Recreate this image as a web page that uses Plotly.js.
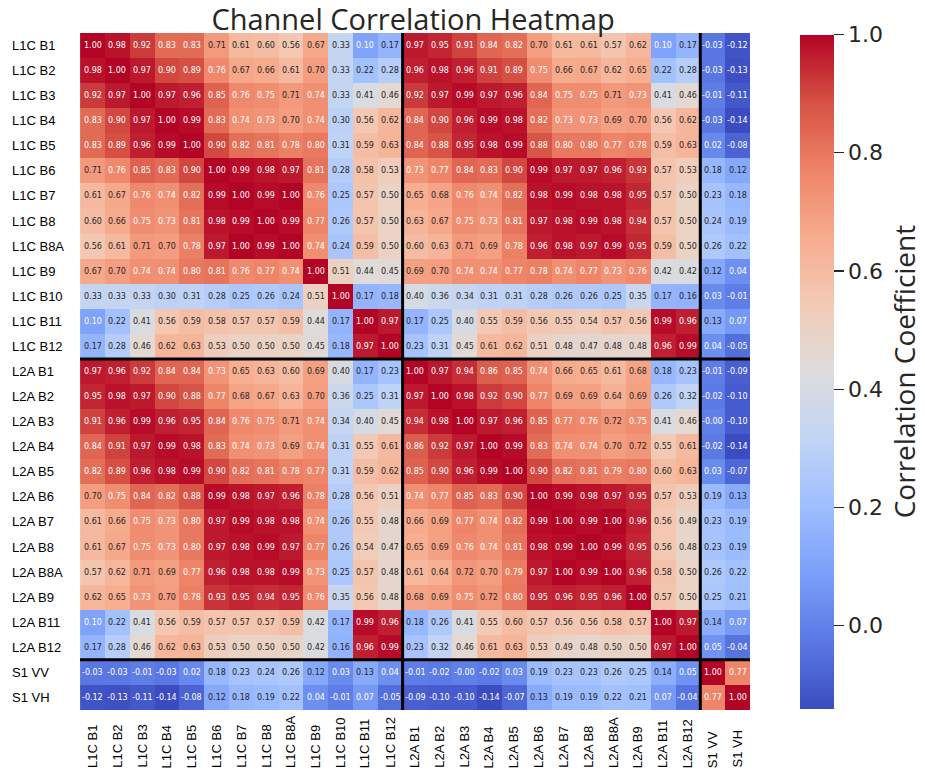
<!DOCTYPE html>
<html>
<head>
<meta charset="utf-8">
<script src="https://cdn.plot.ly/plotly-3.0.1.min.js"></script>
<style>html,body{margin:0;padding:0;background:#fff;}#chart{width:925px;height:775px;}</style>
</head>
<body>
<div id="chart"></div>
<script>
const channels = ["L1C B1","L1C B2","L1C B3","L1C B4","L1C B5","L1C B6","L1C B7","L1C B8","L1C B8A","L1C B9","L1C B10","L1C B11","L1C B12",
  "L2A B1","L2A B2","L2A B3","L2A B4","L2A B5","L2A B6","L2A B7","L2A B8","L2A B8A","L2A B9","L2A B11","L2A B12","S1 VV","S1 VH"];

const r_L1C_B1  = [1.00,0.98,0.92,0.83,0.83,0.71,0.61,0.60,0.56,0.67,0.33,0.10,0.17,0.97,0.95,0.91,0.84,0.82,0.70,0.61,0.61,0.57,0.62,0.10,0.17,-0.03,-0.12];
const r_L1C_B2  = [0.98,1.00,0.97,0.90,0.89,0.76,0.67,0.66,0.61,0.70,0.33,0.22,0.28,0.96,0.98,0.96,0.91,0.89,0.75,0.66,0.67,0.62,0.65,0.22,0.28,-0.03,-0.13];
const r_L1C_B3  = [0.92,0.97,1.00,0.97,0.96,0.85,0.76,0.75,0.71,0.74,0.33,0.41,0.46,0.92,0.97,0.99,0.97,0.96,0.84,0.75,0.75,0.71,0.73,0.41,0.46,-0.01,-0.11];
const r_L1C_B4  = [0.83,0.90,0.97,1.00,0.99,0.83,0.74,0.73,0.70,0.74,0.30,0.56,0.62,0.84,0.90,0.96,0.99,0.98,0.82,0.73,0.73,0.69,0.70,0.56,0.62,-0.03,-0.14];
const r_L1C_B5  = [0.83,0.89,0.96,0.99,1.00,0.90,0.82,0.81,0.78,0.80,0.31,0.59,0.63,0.84,0.88,0.95,0.98,0.99,0.88,0.80,0.80,0.77,0.78,0.59,0.63,0.02,-0.08];
const r_L1C_B6  = [0.71,0.76,0.85,0.83,0.90,1.00,0.99,0.98,0.97,0.81,0.28,0.58,0.53,0.73,0.77,0.84,0.83,0.90,0.99,0.97,0.97,0.96,0.93,0.57,0.53,0.18,0.12];
const r_L1C_B7  = [0.61,0.67,0.76,0.74,0.82,0.99,1.00,0.99,1.00,0.76,0.25,0.57,0.50,0.65,0.68,0.76,0.74,0.82,0.98,0.99,0.98,0.98,0.95,0.57,0.50,0.23,0.18];
const r_L1C_B8  = [0.60,0.66,0.75,0.73,0.81,0.98,0.99,1.00,0.99,0.77,0.26,0.57,0.50,0.63,0.67,0.75,0.73,0.81,0.97,0.98,0.99,0.98,0.94,0.57,0.50,0.24,0.19];
const r_L1C_B8A = [0.56,0.61,0.71,0.70,0.78,0.97,1.00,0.99,1.00,0.74,0.24,0.59,0.50,0.60,0.63,0.71,0.69,0.78,0.96,0.98,0.97,0.99,0.95,0.59,0.50,0.26,0.22];
const r_L1C_B9  = [0.67,0.70,0.74,0.74,0.80,0.81,0.76,0.77,0.74,1.00,0.51,0.44,0.45,0.69,0.70,0.74,0.74,0.77,0.78,0.74,0.77,0.73,0.76,0.42,0.42,0.12,0.04];
const r_L1C_B10 = [0.33,0.33,0.33,0.30,0.31,0.28,0.25,0.26,0.24,0.51,1.00,0.17,0.18,0.40,0.36,0.34,0.31,0.31,0.28,0.26,0.26,0.25,0.35,0.17,0.16,0.03,-0.01];
const r_L1C_B11 = [0.10,0.22,0.41,0.56,0.59,0.58,0.57,0.57,0.59,0.44,0.17,1.00,0.97,0.17,0.25,0.40,0.55,0.59,0.56,0.55,0.54,0.57,0.56,0.99,0.96,0.13,0.07];
const r_L1C_B12 = [0.17,0.28,0.46,0.62,0.63,0.53,0.50,0.50,0.50,0.45,0.18,0.97,1.00,0.23,0.31,0.45,0.61,0.62,0.51,0.48,0.47,0.48,0.48,0.96,0.99,0.04,-0.05];
const r_L2A_B1  = [0.97,0.96,0.92,0.84,0.84,0.73,0.65,0.63,0.60,0.69,0.40,0.17,0.23,1.00,0.97,0.94,0.86,0.85,0.74,0.66,0.65,0.61,0.68,0.18,0.23,-0.01,-0.09];
const r_L2A_B2  = [0.95,0.98,0.97,0.90,0.88,0.77,0.68,0.67,0.63,0.70,0.36,0.25,0.31,0.97,1.00,0.98,0.92,0.90,0.77,0.69,0.69,0.64,0.69,0.26,0.32,-0.02,-0.10];
const r_L2A_B3  = [0.91,0.96,0.99,0.96,0.95,0.84,0.76,0.75,0.71,0.74,0.34,0.40,0.45,0.94,0.98,1.00,0.97,0.96,0.85,0.77,0.76,0.72,0.75,0.41,0.46,-0.004,-0.10];
const r_L2A_B4  = [0.84,0.91,0.97,0.99,0.98,0.83,0.74,0.73,0.69,0.74,0.31,0.55,0.61,0.86,0.92,0.97,1.00,0.99,0.83,0.74,0.74,0.70,0.72,0.55,0.61,-0.02,-0.14];
const r_L2A_B5  = [0.82,0.89,0.96,0.98,0.99,0.90,0.82,0.81,0.78,0.77,0.31,0.59,0.62,0.85,0.90,0.96,0.99,1.00,0.90,0.82,0.81,0.79,0.80,0.60,0.63,0.03,-0.07];
const r_L2A_B6  = [0.70,0.75,0.84,0.82,0.88,0.99,0.98,0.97,0.96,0.78,0.28,0.56,0.51,0.74,0.77,0.85,0.83,0.90,1.00,0.99,0.98,0.97,0.95,0.57,0.53,0.19,0.13];
const r_L2A_B7  = [0.61,0.66,0.75,0.73,0.80,0.97,0.99,0.98,0.98,0.74,0.26,0.55,0.48,0.66,0.69,0.77,0.74,0.82,0.99,1.00,0.99,1.00,0.96,0.56,0.49,0.23,0.19];
const r_L2A_B8  = [0.61,0.67,0.75,0.73,0.80,0.97,0.98,0.99,0.97,0.77,0.26,0.54,0.47,0.65,0.69,0.76,0.74,0.81,0.98,0.99,1.00,0.99,0.95,0.56,0.48,0.23,0.19];
const r_L2A_B8A = [0.57,0.62,0.71,0.69,0.77,0.96,0.98,0.98,0.99,0.73,0.25,0.57,0.48,0.61,0.64,0.72,0.70,0.79,0.97,1.00,0.99,1.00,0.96,0.58,0.50,0.26,0.22];
const r_L2A_B9  = [0.62,0.65,0.73,0.70,0.78,0.93,0.95,0.94,0.95,0.76,0.35,0.56,0.48,0.68,0.69,0.75,0.72,0.80,0.95,0.96,0.95,0.96,1.00,0.57,0.50,0.25,0.21];
const r_L2A_B11 = [0.10,0.22,0.41,0.56,0.59,0.57,0.57,0.57,0.59,0.42,0.17,0.99,0.96,0.18,0.26,0.41,0.55,0.60,0.57,0.56,0.56,0.58,0.57,1.00,0.97,0.14,0.07];
const r_L2A_B12 = [0.17,0.28,0.46,0.62,0.63,0.53,0.50,0.50,0.50,0.42,0.16,0.96,0.99,0.23,0.32,0.46,0.61,0.63,0.53,0.49,0.48,0.50,0.50,0.97,1.00,0.05,-0.04];
const r_S1_VV   = [-0.03,-0.03,-0.01,-0.03,0.02,0.18,0.23,0.24,0.26,0.12,0.03,0.13,0.04,-0.01,-0.02,-0.004,-0.02,0.03,0.19,0.23,0.23,0.26,0.25,0.14,0.05,1.00,0.77];
const r_S1_VH   = [-0.12,-0.13,-0.11,-0.14,-0.08,0.12,0.18,0.19,0.22,0.04,-0.01,0.07,-0.05,-0.09,-0.10,-0.10,-0.14,-0.07,0.13,0.19,0.19,0.22,0.21,0.07,-0.04,0.77,1.00];

const groupBreaks = ["L1C B12","L2A B12"]; // separator lines after these channels
const colorbarTicks = [0, 0.2, 0.4, 0.6, 0.8, 1.0];

const z = [r_L1C_B1,r_L1C_B2,r_L1C_B3,r_L1C_B4,r_L1C_B5,r_L1C_B6,r_L1C_B7,r_L1C_B8,r_L1C_B8A,r_L1C_B9,r_L1C_B10,r_L1C_B11,r_L1C_B12,
  r_L2A_B1,r_L2A_B2,r_L2A_B3,r_L2A_B4,r_L2A_B5,r_L2A_B6,r_L2A_B7,r_L2A_B8,r_L2A_B8A,r_L2A_B9,r_L2A_B11,r_L2A_B12,r_S1_VV,r_S1_VH];

const coolwarm = [
  [0.0,'#3b4cc0'],[0.1,'#5a78e4'],[0.2,'#7b9ff9'],[0.3,'#9ebeff'],[0.4,'#c0d4f5'],
  [0.5,'#dddcdc'],[0.6,'#f2cbb7'],[0.7,'#f7ac8e'],[0.8,'#ee8468'],[0.9,'#d65244'],[1.0,'#b40426']
];

function fmt(v) {
  const s = Math.abs(v).toFixed(2);
  return (v < 0 ? '-' : '') + s;
}

const annotations = [];
z.forEach((row, i) => {
  row.forEach((v, j) => {
    const white = (v >= 0.725 || v < 0.115);
    annotations.push({
      x: channels[j], y: channels[i], xref: 'x', yref: 'y',
      text: fmt(v), showarrow: false,
      font: {family: 'DejaVu Sans', size: 8, color: white ? '#ffffff' : '#262626'}
    });
  });
});

// axis labels, left-aligned like the reference
const labelFont = {family: 'Liberation Sans', size: 13, color: '#000'};
channels.forEach(name => {
  annotations.push({x: -0.1045, xref: 'paper', xanchor: 'left', y: name, yref: 'y', yanchor: 'middle',
    text: name, showarrow: false, font: labelFont});
  annotations.push({x: name, xref: 'x', xanchor: 'center', y: -0.0886, yref: 'paper', yanchor: 'bottom',
    text: name, textangle: -90, showarrow: false, font: labelFont});
});

const shapes = [];
groupBreaks.forEach(name => {
  const k = channels.indexOf(name) + 0.5;
  shapes.push({type:'line', xref:'x', yref:'paper', x0:k, x1:k, y0:0, y1:1, line:{color:'#000', width:3}});
  shapes.push({type:'line', xref:'paper', yref:'y', x0:0, x1:1, y0:k, y1:k, line:{color:'#000', width:3}});
});

const trace = {
  type: 'heatmap', x: channels, y: channels, z: z,
  colorscale: coolwarm, zmin: -0.14, zmax: 1.0, xgap: 0, ygap: 0,
  colorbar: {
    x: 1.0746, xanchor: 'left', xpad: 0, y: 0.5, yanchor: 'middle', ypad: 0, len: 0.995, lenmode: 'fraction',
    thickness: 34, outlinewidth: 0, ticks: 'outside', ticklen: 10, tickwidth: 1.3, tickcolor: '#262626',
    tickvals: colorbarTicks, ticktext: colorbarTicks.map(t => t.toFixed(1)),
    tickfont: {family: 'DejaVu Sans', size: 22, color: '#262626'},
    title: {text: 'Correlation Coefficient', side: 'right', font: {family: 'Open Sans', size: 28, color: '#262626'}}
  }
};

const layout = {
  width: 925, height: 775,
  margin: {l: 80, r: 175, t: 33, b: 65, pad: 0, autoexpand: false},
  paper_bgcolor: '#fff', plot_bgcolor: '#fff',
  title: {text: 'Channel Correlation Heatmap', x: 0.4465, xanchor: 'center', y: 0.974, yanchor: 'middle',
    font: {family: 'Open Sans', size: 29, color: '#262626'}},
  xaxis: {type: 'category', showticklabels: false, showgrid: false, zeroline: false, ticks: '', automargin: false, showline: false},
  yaxis: {type: 'category', autorange: 'reversed', showticklabels: false, showgrid: false, zeroline: false, ticks: '', automargin: false, showline: false},
  annotations: annotations, shapes: shapes, showlegend: false
};

Plotly.newPlot('chart', [trace], layout, {displayModeBar: false, staticPlot: true});
</script>
</body>
</html>
